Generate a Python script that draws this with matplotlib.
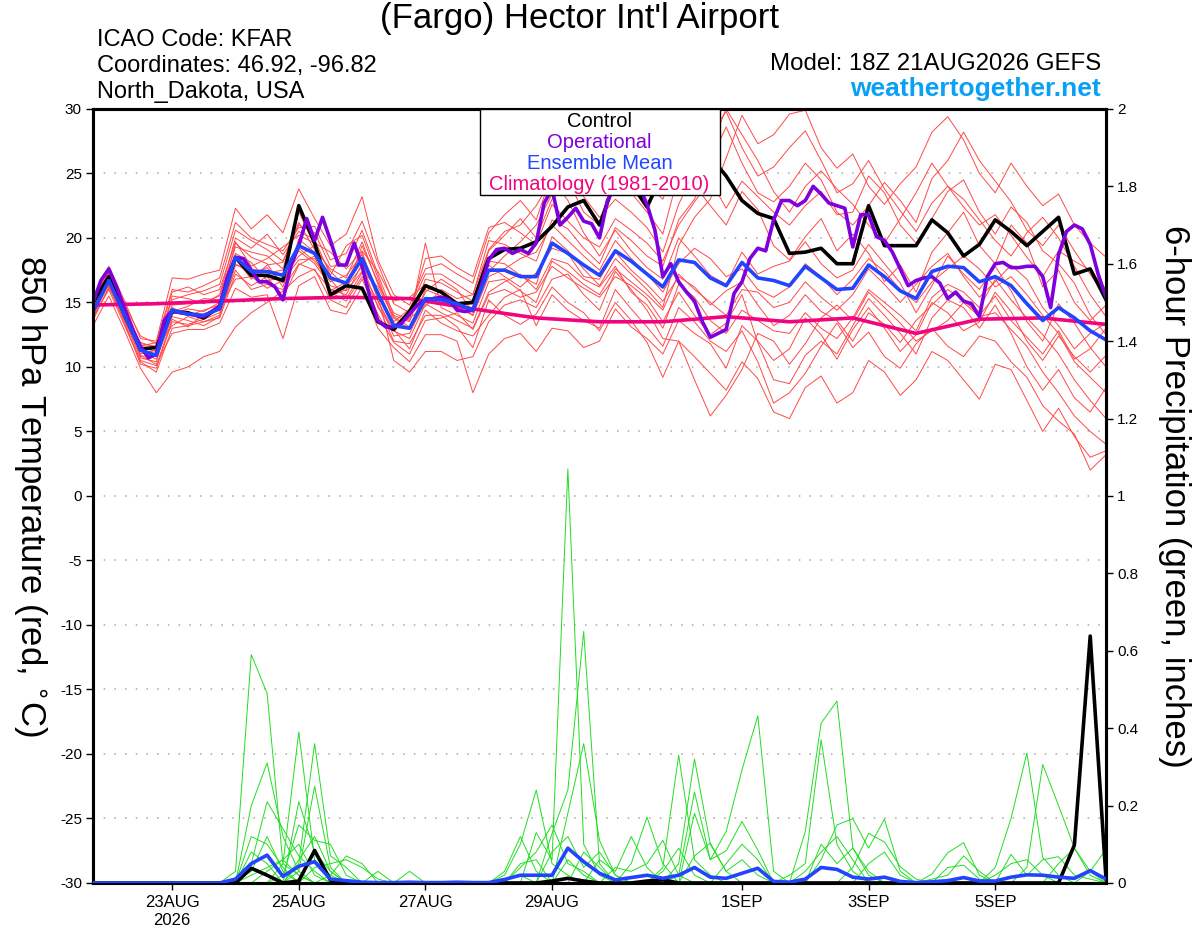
import numpy as np
import matplotlib
matplotlib.use("Agg")
import matplotlib.pyplot as plt
from matplotlib.patches import Rectangle

plt.rcParams['font.family'] = ['Liberation Sans', 'DejaVu Sans']
plt.rcParams['axes.unicode_minus'] = False

# 6-hourly steps from 18Z 21AUG2026 (65 points), operational is 3-hourly
ctrl_t = [15.0, 17.0, 14.0, 11.4, 11.5, 14.3, 14.2, 13.8, 14.7, 18.5, 17.1, 17.1, 16.7,
          22.5, 19.6, 15.6, 16.3, 16.1, 13.5, 12.9, 14.3, 16.3, 15.8, 14.9, 15.0, 18.4,
          19.1, 19.2, 19.7, 20.9, 22.4, 22.9, 21.0, 24.5, 24.2, 22.4, 25.0, 26.5, 26.6,
          26.3, 24.8, 22.9, 21.9, 21.5, 18.8, 18.9, 19.2, 18.0, 18.0, 22.5, 19.4, 19.4,
          19.4, 21.4, 20.4, 18.6, 19.5, 21.4, 20.5, 19.4, 20.5, 21.6, 17.2, 17.6, 15.2]

mean_t = [14.3, 16.7, 14.0, 11.3, 10.9, 14.4, 14.1, 14.0, 14.5, 18.5, 17.4, 17.4, 17.1,
          19.4, 18.8, 16.9, 16.5, 18.4, 15.7, 13.2, 13.0, 15.3, 15.2, 14.9, 14.4, 17.5,
          17.5, 17.0, 17.0, 19.6, 18.8, 17.9, 17.1, 19.0, 18.2, 17.2, 16.2, 18.3, 18.1,
          16.9, 16.3, 18.1, 16.9, 16.7, 16.3, 17.8, 16.9, 16.0, 16.1, 17.9, 17.0, 15.9,
          15.3, 17.4, 17.8, 17.7, 16.6, 17.0, 16.3, 14.9, 13.6, 14.6, 13.8, 12.8, 12.1]

oper_t = [15.0, 16.7, 17.6, 16.2, 14.5, 12.9, 11.6, 10.7, 11.0, 13.6, 14.4, 14.2, 14.1,
          14.0, 13.9, 14.3, 14.7, 17.0, 18.5, 18.4, 17.5, 16.6, 16.6, 16.2, 15.2, 17.8,
          19.4, 21.5, 19.8, 21.6, 19.8, 17.9, 17.9, 19.6, 17.8, 15.4, 13.6, 13.1, 13.1,
          13.4, 14.1, 14.8, 15.2, 15.3, 15.4, 15.2, 14.4, 14.3, 14.4, 16.2, 18.3, 19.1,
          19.2, 18.8, 19.1, 18.8, 19.6, 22.7, 23.8, 21.0, 21.6, 22.3, 21.3, 21.1, 20.0,
          22.9, 24.0, 24.5, 23.5, 24.0, 22.6, 20.6, 17.0, 18.0, 16.6, 15.8, 15.1, 13.5,
          12.3, 12.6, 12.9, 15.7, 16.6, 18.4, 19.2, 19.0, 21.4, 22.9, 22.9, 22.5, 22.9,
          24.0, 23.4, 22.7, 22.5, 22.3, 19.3, 21.8, 21.8, 20.1, 19.8, 18.9, 17.6, 16.3,
          16.7, 16.9, 17.0, 16.5, 15.3, 15.8, 15.1, 14.9, 13.9, 17.0, 18.0, 18.1, 17.7,
          17.7, 17.8, 17.8, 17.0, 14.6, 18.7, 20.5, 21.0, 20.7, 19.5, 17.2, 15.4]

# daily climatology at 18Z
clim_t = [14.8, 14.9, 15.1, 15.3, 15.4, 15.3, 14.5, 13.8, 13.5, 13.5, 13.9, 13.5,
          13.8, 12.6, 13.7, 13.8, 13.3]

ctrl_p = [0, 0, 0, 0, 0, 0, 0, 0, 0, 0, 0.038, 0.02, 0,
          0.005, 0.084, 0.007, 0, 0, 0, 0, 0, 0, 0, 0, 0, 0,
          0, 0, 0, 0.005, 0.012, 0.005, 0, 0, 0, 0.005, 0.008, 0, 0,
          0, 0, 0, 0, 0, 0, 0, 0, 0, 0, 0, 0, 0,
          0, 0, 0, 0, 0, 0, 0, 0, 0, 0, 0.098, 0.638, 0.01]

mean_p = [0, 0, 0, 0, 0, 0, 0, 0, 0, 0.01, 0.05, 0.072, 0.017,
          0.043, 0.055, 0.01, 0.006, 0.002, 0.001, 0.001, 0.002, 0.001, 0.001, 0.002, 0.001, 0.001,
          0.009, 0.02, 0.02, 0.02, 0.09, 0.055, 0.025, 0.008, 0.014, 0.02, 0.012, 0.02, 0.04,
          0.015, 0.012, 0.025, 0.038, 0.004, 0.002, 0.01, 0.04, 0.035, 0.015, 0.01, 0.015, 0.004,
          0.001, 0.003, 0.006, 0.014, 0.005, 0.005, 0.015, 0.021, 0.02, 0.015, 0.012, 0.032, 0.01]

# ensemble members, 850 hPa temperature
t_mem01 = [14.8, 17.2, 14.6, 11.8, 11.6, 15.2, 15.6, 15.9, 16.4, 20.6, 19.8, 19.1, 18.2, 21.0, 20.4, 17.8, 17.9, 20.6, 17.2, 14.0, 13.5, 16.8,
           16.5, 15.8, 15.1, 19.0, 20.2, 21.5, 20.0, 23.0, 24.5, 22.0, 21.0, 24.6, 23.5, 22.0, 20.3, 25.0, 27.5, 28.0, 29.8, 27.0, 24.8, 25.5,
           27.0, 28.3, 26.0, 23.5, 24.2, 26.0, 23.8, 22.1, 20.5, 22.7, 24.0, 22.4, 21.0, 21.8, 20.2, 18.5, 17.0, 19.0, 18.2, 17.5, 16.0]
t_mem02 = [13.9, 16.0, 13.2, 10.4, 9.6, 13.0, 13.2, 13.5, 13.8, 17.2, 16.3, 17.0, 15.4, 17.9, 18.6, 15.8, 15.1, 17.0, 14.8, 12.0, 11.8, 14.0,
           14.0, 13.1, 11.5, 15.2, 14.0, 13.3, 14.1, 16.2, 15.0, 14.2, 12.8, 15.0, 13.6, 11.9, 9.2, 12.0, 10.8, 9.5, 8.2, 10.4, 9.1, 6.5,
           6.0, 8.4, 9.3, 7.2, 8.0, 10.5, 9.6, 7.8, 9.0, 11.2, 10.5, 9.0, 7.5, 10.2, 9.8, 7.4, 5.0, 6.8, 4.6, 3.0, 3.5]
t_mem03 = [15.2, 17.8, 15.1, 12.2, 12.0, 16.9, 16.8, 17.2, 17.5, 22.3, 20.7, 21.8, 20.4, 23.8, 21.5, 19.4, 20.3, 23.2, 18.3, 15.6, 14.8, 17.6,
           18.0, 17.2, 16.5, 20.4, 21.8, 22.9, 21.4, 25.0, 26.2, 27.3, 25.6, 27.9, 26.0, 24.2, 23.0, 26.3, 24.1, 22.5, 21.0, 23.6, 22.2, 19.4,
           18.3, 20.1, 21.5, 19.0, 20.3, 18.8, 16.6, 17.9, 15.8, 18.9, 20.4, 22.0, 19.4, 18.0, 21.0, 19.6, 16.2, 17.5, 15.0, 13.6, 14.8]
t_mem04 = [14.0, 16.4, 13.7, 10.9, 10.2, 12.6, 12.9, 12.9, 13.4, 16.1, 15.4, 15.6, 12.2, 16.3, 17.0, 14.4, 14.1, 16.2, 13.0, 11.5, 10.4, 12.5,
           12.5, 12.0, 8.0, 11.0, 12.2, 12.6, 11.2, 13.0, 12.8, 11.5, 12.0, 14.5, 13.1, 12.2, 11.0, 13.6, 12.6, 11.8, 9.9, 13.2, 12.0, 10.5,
           11.4, 13.8, 12.5, 10.6, 12.9, 14.6, 13.0, 11.2, 12.5, 15.0, 14.2, 12.8, 13.5, 15.8, 14.3, 12.0, 10.5, 12.4, 10.8, 9.6, 10.9]
t_mem05 = [14.5, 17.0, 14.2, 11.0, 11.3, 14.8, 14.9, 15.0, 15.5, 19.3, 18.9, 18.6, 17.6, 22.0, 19.5, 15.5, 16.0, 19.4, 16.6, 13.8, 12.9, 16.0,
           15.5, 15.0, 14.0, 18.2, 18.0, 17.1, 16.4, 20.1, 19.0, 17.6, 16.3, 18.4, 17.2, 16.0, 14.6, 19.4, 21.6, 23.0, 26.2, 29.5, 27.3, 28.0,
           29.6, 29.9, 27.0, 25.4, 26.5, 24.0, 22.6, 24.2, 25.5, 28.2, 29.4, 27.6, 25.0, 23.5, 25.8, 24.0, 22.5, 23.4, 21.0, 19.6, 18.5]
t_mem06 = [13.2, 15.5, 12.8, 9.9, 8.0, 9.6, 10.0, 10.8, 11.2, 13.1, 14.2, 15.0, 15.9, 17.0, 17.6, 15.2, 14.6, 16.8, 14.1, 11.9, 11.0, 13.6,
           13.8, 14.2, 12.9, 15.6, 16.0, 15.4, 15.8, 17.8, 16.9, 16.1, 15.4, 17.0, 16.3, 15.3, 13.5, 15.8, 14.0, 12.5, 13.4, 15.6, 11.9, 9.0,
           8.7, 10.9, 12.0, 11.0, 13.2, 15.3, 14.0, 12.6, 11.0, 13.8, 15.2, 14.6, 13.0, 14.8, 12.6, 10.0, 8.2, 9.8, 7.6, 6.5, 8.4]
t_mem07 = [14.7, 17.5, 14.9, 11.6, 11.9, 16.0, 15.8, 16.3, 16.9, 21.2, 20.0, 19.5, 19.0, 20.8, 20.9, 18.3, 18.8, 21.3, 18.0, 14.9, 14.2, 18.4,
           18.6, 17.7, 17.0, 20.8, 21.2, 20.4, 19.5, 22.6, 21.3, 20.0, 19.3, 21.5, 20.6, 19.6, 18.2, 21.0, 22.8, 24.5, 22.3, 24.4, 23.2, 22.0,
           21.0, 22.5, 23.6, 21.8, 22.0, 24.8, 23.5, 21.0, 19.6, 21.5, 23.6, 24.5, 22.0, 20.3, 22.4, 21.2, 19.0, 18.0, 16.5, 14.0, 12.5]
t_mem08 = [14.2, 16.6, 13.9, 11.2, 10.6, 13.9, 13.6, 13.2, 13.9, 18.0, 17.2, 17.7, 16.5, 19.2, 18.2, 16.6, 17.1, 18.7, 15.2, 12.4, 12.6, 15.1,
           15.0, 14.8, 14.9, 17.9, 17.0, 16.2, 17.3, 19.2, 18.8, 17.0, 16.8, 18.9, 17.5, 16.4, 15.1, 17.0, 16.2, 14.8, 15.9, 16.6, 14.8, 13.2,
           14.0, 15.6, 14.3, 13.6, 12.0, 14.2, 13.3, 11.9, 13.6, 14.8, 16.0, 15.2, 14.0, 15.5, 13.6, 12.3, 11.0, 12.8, 10.6, 11.4, 13.0]
t_mem09 = [15.4, 17.3, 14.4, 10.8, 11.0, 14.1, 14.5, 14.3, 15.0, 18.8, 18.1, 16.7, 16.9, 18.6, 19.4, 17.4, 16.2, 17.8, 15.9, 13.3, 13.8, 14.7,
           16.0, 15.3, 15.6, 19.1, 20.5, 21.0, 22.5, 24.6, 22.9, 20.4, 18.6, 20.6, 19.0, 17.7, 16.8, 20.0, 18.6, 17.1, 16.4, 18.9, 17.2, 17.8,
           18.2, 19.7, 18.0, 16.9, 17.5, 19.5, 18.0, 16.5, 14.2, 16.3, 18.6, 17.2, 16.0, 17.8, 15.9, 13.5, 12.0, 14.9, 13.4, 11.5, 10.0]
t_mem10 = [13.6, 16.2, 13.5, 10.2, 9.9, 13.5, 13.3, 13.7, 14.2, 17.5, 16.0, 16.4, 16.0, 18.0, 17.5, 16.0, 15.6, 18.0, 14.6, 12.9, 11.4, 14.4,
           13.4, 12.8, 12.4, 14.0, 15.4, 16.0, 13.2, 15.6, 14.4, 13.6, 13.0, 16.0, 14.5, 13.1, 11.6, 14.6, 13.5, 12.0, 11.2, 12.8, 10.4, 7.2,
           8.0, 9.5, 11.6, 13.4, 11.5, 12.7, 10.8, 9.9, 11.8, 13.0, 11.6, 10.8, 12.4, 12.0, 10.4, 9.2, 7.0, 5.8, 4.8, 2.0, 3.2]
t_mem11 = [14.9, 16.9, 14.3, 11.5, 11.2, 15.5, 15.3, 14.9, 15.6, 20.0, 19.2, 20.3, 18.7, 20.5, 19.9, 17.1, 19.4, 20.2, 16.9, 13.5, 14.5, 17.2,
           17.2, 16.4, 15.6, 19.8, 19.5, 18.8, 18.2, 21.4, 20.7, 19.2, 18.0, 20.8, 19.8, 18.6, 17.8, 21.4, 23.0, 26.0, 28.6, 25.8, 23.5, 22.8,
           24.0, 25.8, 24.5, 22.0, 21.0, 22.5, 24.3, 22.9, 21.2, 24.6, 26.0, 28.2, 26.0, 24.4, 22.8, 20.6, 19.4, 21.0, 19.0, 17.2, 15.4]
t_mem12 = [14.4, 16.8, 13.6, 10.7, 10.4, 14.6, 14.0, 14.4, 14.8, 19.6, 18.5, 18.0, 16.2, 19.9, 18.9, 15.9, 16.6, 18.9, 15.6, 10.5, 9.6, 11.2,
           11.2, 10.5, 10.8, 13.5, 14.8, 15.2, 14.6, 16.8, 17.2, 15.6, 14.4, 17.4, 16.0, 14.4, 12.2, 12.0, 9.0, 6.2, 7.8, 9.8, 12.6, 12.0,
           10.2, 11.8, 13.8, 14.8, 13.6, 15.8, 14.6, 13.4, 12.0, 12.8, 13.6, 15.0, 13.9, 14.2, 12.9, 11.6, 9.6, 8.0, 6.2, 5.0, 4.0]
t_mem13 = [15.0, 16.3, 13.8, 11.9, 11.5, 13.2, 13.9, 13.5, 14.0, 17.9, 17.6, 17.3, 17.5, 19.0, 18.0, 16.3, 15.9, 17.4, 16.2, 13.9, 13.1, 15.8,
           16.8, 16.0, 14.2, 17.4, 18.6, 19.7, 21.0, 23.4, 25.6, 23.2, 21.6, 23.0, 22.0, 20.8, 18.9, 22.6, 25.2, 27.0, 30.0, 28.0, 26.0, 23.6,
           22.0, 24.0, 25.2, 23.8, 22.6, 21.0, 19.6, 21.5, 23.5, 25.8, 24.0, 23.0, 21.4, 19.8, 18.6, 20.4, 21.6, 20.0, 17.8, 15.6, 13.9]
t_mem14 = [13.8, 16.1, 14.1, 11.3, 10.8, 14.3, 14.7, 15.3, 15.2, 18.4, 16.8, 17.9, 18.1, 21.2, 19.1, 17.6, 16.9, 19.7, 16.4, 14.2, 13.6, 19.6,
           14.6, 14.0, 13.4, 16.6, 16.8, 15.9, 15.0, 18.2, 17.4, 16.4, 15.6, 17.6, 16.6, 15.6, 14.4, 17.2, 16.0, 15.0, 14.0, 16.0, 15.8, 14.6,
           15.0, 16.6, 15.4, 14.4, 15.6, 17.6, 16.4, 15.0, 16.4, 17.8, 18.8, 17.0, 15.4, 16.6, 17.9, 16.8, 14.6, 13.2, 11.4, 12.6, 13.4]
t_mem15 = [14.6, 17.1, 14.8, 12.4, 11.8, 15.8, 16.2, 15.6, 16.0, 19.7, 17.8, 18.4, 19.3, 20.2, 19.6, 18.9, 17.6, 19.0, 17.4, 15.1, 15.4, 16.4,
           15.8, 14.6, 14.0, 17.0, 17.6, 18.4, 18.9, 21.0, 19.8, 18.6, 17.5, 19.8, 18.4, 17.2, 15.8, 18.0, 19.2, 18.4, 17.0, 17.6, 16.0, 15.4,
           16.2, 18.0, 17.0, 15.6, 16.8, 18.4, 17.4, 16.0, 15.0, 16.6, 17.6, 18.6, 17.6, 16.2, 17.0, 15.6, 14.0, 12.6, 10.4, 9.2, 8.0]
t_mem16 = [14.1, 16.5, 13.3, 10.5, 10.1, 13.7, 13.1, 14.1, 14.6, 16.8, 17.0, 16.1, 16.7, 18.3, 18.4, 16.8, 15.3, 17.3, 15.1, 12.8, 12.2, 14.9,
           14.2, 13.6, 13.0, 15.8, 16.6, 17.2, 16.0, 18.4, 18.0, 16.8, 16.2, 17.8, 15.8, 14.8, 13.0, 16.4, 15.4, 13.6, 12.6, 14.4, 13.6, 12.8,
           12.6, 14.2, 13.0, 12.2, 13.8, 16.0, 15.0, 14.0, 12.8, 15.4, 16.4, 15.8, 14.6, 16.8, 15.2, 13.8, 12.5, 11.0, 9.0, 7.4, 6.0]

# ensemble members, 6-hour precip (step index: inches, other steps dry)
p_mem01 = {9: .03, 10: .59, 11: .49, 12: .05, 13: .02, 26: .02, 27: .1, 28: .24, 29: .05, 30: .02, 40: .05, 41: .1, 42: .06}
p_mem02 = {10: .2, 11: .31, 12: .12, 13: .03, 28: .13, 29: .06, 30: 1.07, 31: .1, 32: .02, 45: .133, 46: .413, 47: .47, 48: .09, 49: .02}
p_mem03 = {10: .05, 11: .21, 12: .14, 13: .07, 14: .03, 29: .128, 30: .24, 31: .65, 32: .05, 44: .02, 45: .05, 46: .37, 47: .1, 48: .03}
p_mem04 = {12: .05, 13: .39, 14: .06, 15: .02, 30: .18, 31: .36, 32: .11, 33: .02, 46: .06, 47: .15, 48: .166, 49: .09, 50: .165, 51: .03}
p_mem05 = {13: .05, 14: .36, 15: .07, 16: .04, 27: .04, 28: .08, 29: .15, 30: .05, 31: .03, 48: .04, 49: .128, 50: .106, 51: .042, 52: .01}
p_mem06 = {13: .21, 14: .08, 15: .03, 26: .03, 27: .12, 28: .03, 32: .06, 33: .03, 34: .12, 35: .04, 46: .1, 47: .05, 48: .09, 49: .03}
p_mem07 = {12: .02, 13: .15, 14: .11, 15: .1, 16: .02, 30: .06, 31: .02, 34: .05, 35: .17, 36: .05, 45: .03, 46: .08, 47: .12, 48: .06}
p_mem08 = {13: .03, 14: .25, 15: .04, 33: .04, 34: .03, 35: .05, 36: .11, 37: .02, 49: .05, 50: .08, 51: .02}
p_mem09 = {10: .12, 11: .1, 12: .04, 15: .02, 16: .07, 17: .05, 29: .08, 30: .12, 31: .04, 32: .08, 33: .02, 53: .023, 54: .078, 55: .104, 56: .02}
p_mem10 = {9: .01, 10: .03, 11: .12, 12: .03, 18: .03, 27: .05, 28: .06, 31: .08, 32: .04, 36: .03, 37: .09, 38: .02, 54: .04, 55: .046, 56: .01}
p_mem11 = {10: .08, 11: .05, 13: .06, 14: .12, 15: .03, 20: .03, 36: .04, 37: .33, 38: .06, 39: .02, 53: .01, 54: .02, 55: .07, 56: .03}
p_mem12 = {11: .03, 12: .06, 13: .1, 14: .02, 37: .05, 38: .32, 39: .1, 40: .03, 57: .04, 58: .167, 59: .336, 60: .066, 61: .02}
p_mem13 = {37: .02, 38: .235, 39: .06, 40: .133, 41: .292, 42: .432, 43: .03, 59: .04, 60: .306, 61: .2, 62: .09, 63: .02}
p_mem14 = {38: .18, 39: .06, 40: .083, 41: .159, 42: .085, 58: .074, 59: .02, 60: .06, 61: .068, 62: .02, 63: .01}
p_mem15 = {10: .02, 11: .04, 12: .06, 13: .02, 38: .07, 39: .103, 40: .03, 41: .06, 42: .02, 57: .02, 58: .05, 59: .06, 60: .02, 63: .03, 64: .087}
p_mem16 = {14: .04, 15: .05, 16: .06, 17: .04, 18: .01, 26: .01, 27: .02, 61: .05, 62: .09, 63: .03}

tick_hours = [30, 78, 126, 174, 246, 294, 342]
tick_labels = ['23AUG\n2026', '25AUG', '27AUG', '29AUG', '1SEP', '3SEP', '5SEP']

temp_members = [t_mem01, t_mem02, t_mem03, t_mem04, t_mem05, t_mem06, t_mem07, t_mem08,
                t_mem09, t_mem10, t_mem11, t_mem12, t_mem13, t_mem14, t_mem15, t_mem16]
precip_members = [p_mem01, p_mem02, p_mem03, p_mem04, p_mem05, p_mem06, p_mem07, p_mem08,
                  p_mem09, p_mem10, p_mem11, p_mem12, p_mem13, p_mem14, p_mem15, p_mem16]

RED = '#ff4848'
GREEN = '#22dd22'
PURPLE = '#7f00dd'
BLUE = '#2244ff'
PINK = '#f0047f'


def hours(series, step=6):
    return np.arange(len(series)) * step


def expand(steps, n=65):
    v = np.zeros(n)
    for k, val in steps.items():
        v[k] = val
    return v


fig = plt.figure(figsize=(12, 9.27), dpi=100)
ax = fig.add_axes([0.0775, 0.0475, 0.8442, 0.835])
ax2 = ax.twinx()

# temperature (left axis)
for m in temp_members:
    ax.plot(hours(m), m, color=RED, lw=0.7, zorder=2)
ax.plot(hours(clim_t, 24), clim_t, color=PINK, lw=2.6, zorder=3)
ax.plot(hours(ctrl_t), ctrl_t, color='black', lw=2.6, zorder=4)
ax.plot(hours(oper_t, 3), oper_t, color=PURPLE, lw=2.6, zorder=5)
ax.plot(hours(mean_t), mean_t, color=BLUE, lw=2.6, zorder=6)

# precipitation (right axis)
for m in precip_members:
    v = expand(m)
    ax2.plot(hours(v), v, color=GREEN, lw=0.7, zorder=2)
ax2.plot(hours(mean_p), mean_p, color=BLUE, lw=2.6, zorder=4)
ax2.plot(hours(ctrl_p), ctrl_p, color='black', lw=2.6, zorder=3)

ax.set_xlim(0, 384)
ax.set_ylim(-30, 30)
ax.set_yticks(range(-30, 31, 5))
ax2.set_ylim(0, 2)
pticks = np.round(np.arange(0, 2.01, 0.2), 1)
ax2.set_yticks(pticks)
ax2.set_yticklabels(['0' if p == 0 else ('2' if p == 2 else f'{p:g}') for p in pticks])
ax.set_xticks(tick_hours)
ax.set_xticklabels(tick_labels)

for v in range(-25, 30, 5):
    ax.axhline(v, color='#a8a8a8', lw=1.1, ls=(0, (1, 6)), zorder=1)

for a in (ax, ax2):
    for s in a.spines.values():
        s.set_linewidth(2.2)
    a.tick_params(direction='out', length=5, width=1, labelsize=11, pad=3)
ax.tick_params(axis='x', labelsize=12, pad=4)

# legend box
ax2.add_patch(Rectangle((0.382, 0.889), 0.237, 0.111, transform=ax2.transAxes,
                        facecolor='white', edgecolor='black', lw=1, zorder=20))
leg = [('Control', 'black', 0.984), ('Operational', PURPLE, 0.957),
       ('Ensemble Mean', BLUE, 0.930), ('Climatology (1981-2010)', PINK, 0.902)]
for txt, c, y in leg:
    ax2.text(0.5, y, txt, color=c, fontsize=14.5, ha='center', va='center',
             transform=ax2.transAxes, zorder=21)

# header
fig.text(0.483, 0.980, "(Fargo) Hector Int'l Airport", fontsize=25, ha='center', va='center')
fig.text(0.081, 0.957, 'ICAO Code: KFAR', fontsize=17, va='center')
fig.text(0.081, 0.929, 'Coordinates: 46.92, -96.82', fontsize=17, va='center')
fig.text(0.081, 0.901, 'North_Dakota, USA', fontsize=17, va='center')
fig.text(0.9175, 0.931, 'Model: 18Z 21AUG2026 GEFS', fontsize=17.3, ha='right', va='center')
fig.text(0.9175, 0.904, 'weathertogether.net', fontsize=19, fontweight='bold',
         color='#0aa0f5', ha='right', va='center')

fig.text(0.025, 0.465, r'850 hPa Temperature (red, $^{\circ}$C)', fontsize=25,
         rotation=-90, ha='center', va='center')
fig.text(0.979, 0.465, '6-hour Precipitation (green, inches)', fontsize=25,
         rotation=-90, ha='center', va='center')

fig.savefig('out.png', dpi=100)
